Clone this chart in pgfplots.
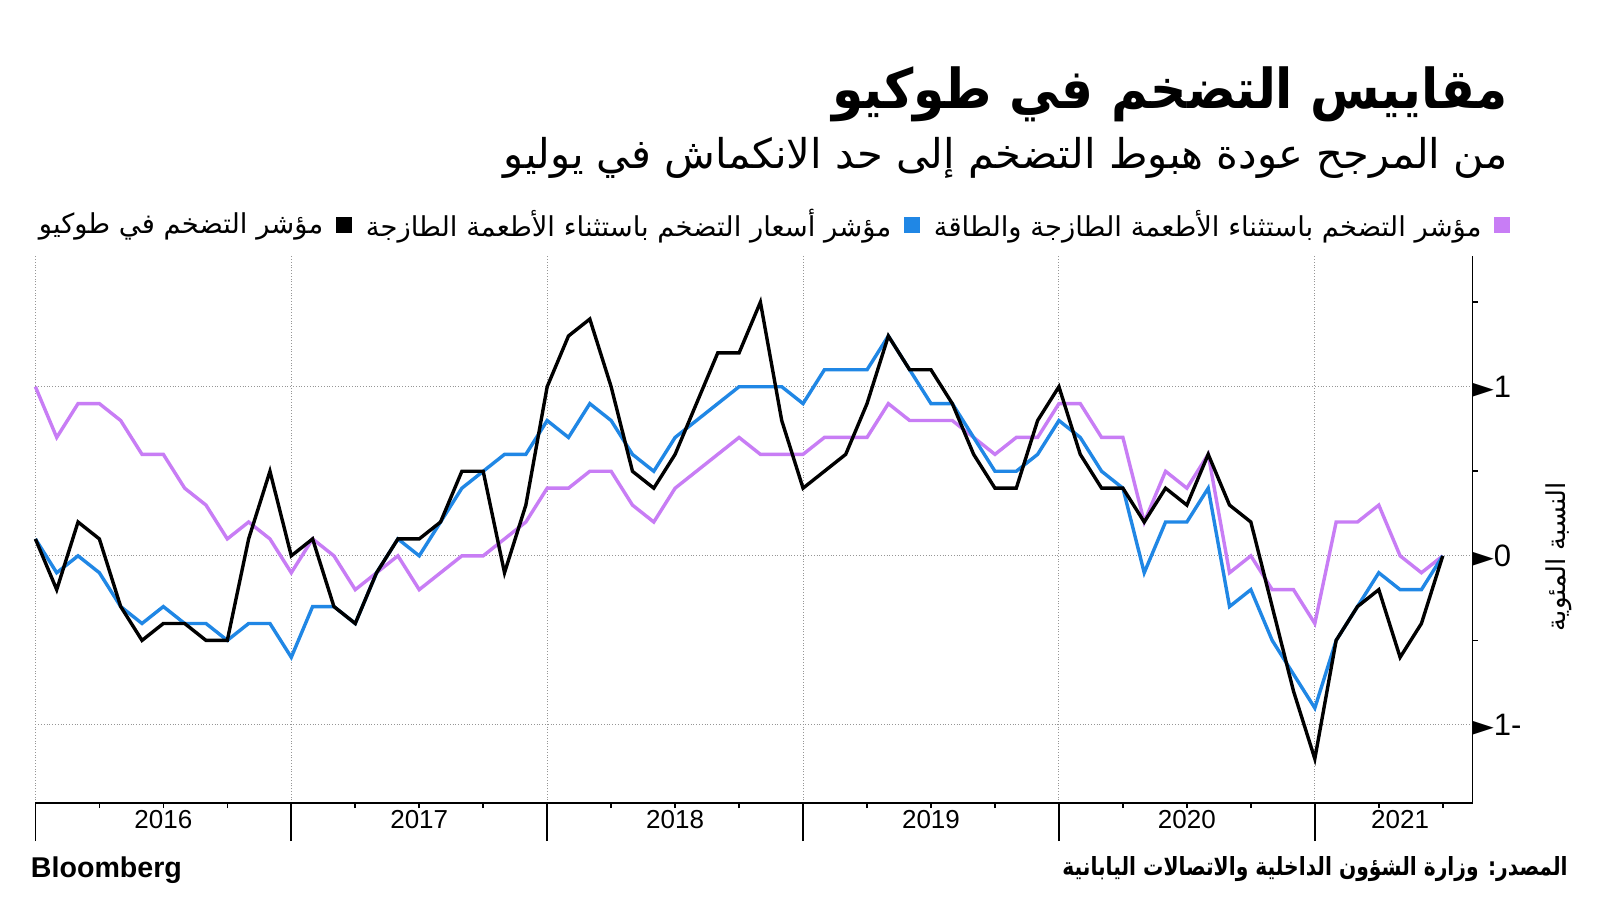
\documentclass[border=0pt]{standalone}
\usepackage{fontspec}
\usepackage{pgfplots}
\usepackage{pgfplotstable}
\pgfplotsset{compat=1.18}
\setmainfont{Liberation Sans}
\newfontfamily\arabicfont[Script=Arabic]{DejaVu Sans}
\newfontfamily\symfont{DejaVu Sans}
\TeXXeTstate=1
\definecolor{cpurple}{RGB}{200,125,245}
\definecolor{cblue}{RGB}{32,135,229}
\definecolor{cgrid}{RGB}{150,150,150}

\pgfplotstableread{
x p b k
0 1.0 0.1 0.1
1 0.7 -0.1 -0.2
2 0.9 0.0 0.2
3 0.9 -0.1 0.1
4 0.8 -0.3 -0.3
5 0.6 -0.4 -0.5
6 0.6 -0.3 -0.4
7 0.4 -0.4 -0.4
8 0.3 -0.4 -0.5
9 0.1 -0.5 -0.5
10 0.2 -0.4 0.1
11 0.1 -0.4 0.5
12 -0.1 -0.6 0.0
13 0.1 -0.3 0.1
14 0.0 -0.3 -0.3
15 -0.2 -0.4 -0.4
16 -0.1 -0.1 -0.1
17 0.0 0.1 0.1
18 -0.2 0.0 0.1
19 -0.1 0.2 0.2
20 0.0 0.4 0.5
21 0.0 0.5 0.5
22 0.1 0.6 -0.1
23 0.2 0.6 0.3
24 0.4 0.8 1.0
25 0.4 0.7 1.3
26 0.5 0.9 1.4
27 0.5 0.8 1.0
28 0.3 0.6 0.5
29 0.2 0.5 0.4
30 0.4 0.7 0.6
31 0.5 0.8 0.9
32 0.6 0.9 1.2
33 0.7 1.0 1.2
34 0.6 1.0 1.5
35 0.6 1.0 0.8
36 0.6 0.9 0.4
37 0.7 1.1 0.5
38 0.7 1.1 0.6
39 0.7 1.1 0.9
40 0.9 1.3 1.3
41 0.8 1.1 1.1
42 0.8 0.9 1.1
43 0.8 0.9 0.9
44 0.7 0.7 0.6
45 0.6 0.5 0.4
46 0.7 0.5 0.4
47 0.7 0.6 0.8
48 0.9 0.8 1.0
49 0.9 0.7 0.6
50 0.7 0.5 0.4
51 0.7 0.4 0.4
52 0.2 -0.1 0.2
53 0.5 0.2 0.4
54 0.4 0.2 0.3
55 0.6 0.4 0.6
56 -0.1 -0.3 0.3
57 0.0 -0.2 0.2
58 -0.2 -0.5 -0.3
59 -0.2 -0.7 -0.8
60 -0.4 -0.9 -1.2
61 0.2 -0.5 -0.5
62 0.2 -0.3 -0.3
63 0.3 -0.1 -0.2
64 0.0 -0.2 -0.6
65 -0.1 -0.2 -0.4
66 0.0 0.0 0.0
}\data

\begin{document}
\begin{tikzpicture}[x=1pt,y=1pt]
\useasboundingbox (0,0) rectangle (800,450);
\fill[white] (0,0) rectangle (800,450);
\node[anchor=east, inner sep=0] at (754,403) {\scalebox{0.915}[1]{\fontsize{27.5}{31}\selectfont\arabicfont\bfseries\beginR مقاييس التضخم في طوكيو\endR}};
\node[anchor=east, inner sep=0] at (754,371) {\scalebox{1.015}[1]{\fontsize{20.5}{24}\selectfont\arabicfont\beginR من المرجح عودة هبوط التضخم إلى حد الانكماش في يوليو\endR}};
\node[anchor=west, inner sep=0] at (15.3,15.0) {\fontsize{14.3}{16}\selectfont\bfseries Bloomberg};
\node[anchor=east, inner sep=0] at (784,15.3) {\scalebox{0.81}[1]{\fontsize{12.5}{14}\selectfont\arabicfont\bfseries\beginR المصدر: وزارة الشؤون الداخلية والاتصالات اليابانية\endR}};
\begin{axis}[
 at={(16.6,57.3)}, anchor=south west,
 scale only axis, width=718.6pt, height=273.3pt,
 xmin=0, xmax=67.4, ymin=-1.462, ymax=1.77,
 axis x line*=bottom, axis y line*=right,
 axis line style={line width=0.8pt, black, -},
 xtick={0,12,24,36,48,60}, xticklabels={},
 minor xtick={3,6,9,15,18,21,27,30,33,39,42,45,51,54,57,63,66},
 extra x ticks={6,18,30,42,54,64},
 extra x tick labels={2016,2017,2018,2019,2020,2021},
 extra x tick style={grid=none, major tick length=0pt},
 xticklabel style={font=\fontsize{13}{15}\selectfont},
 ytick={-1,0,1},
 yticklabels={{{\symfont\fontsize{14}{14}\selectfont ►}1-},{{\symfont\fontsize{14}{14}\selectfont ►}0},{{\symfont\fontsize{14}{14}\selectfont ►}1}},
 yticklabel style={font=\fontsize{15.5}{17}\selectfont, anchor=west, inner xsep=0pt, xshift=-19.3pt},
 minor ytick={-0.5,0.5,1.5},
 grid=major, major grid style={densely dotted, cgrid, line width=0.5pt},
 tick align=outside,
 major tick length=19pt, minor tick length=2.5pt,
 major y tick style={draw=none},
 tick style={black, line width=0.8pt},
 clip=false,
 legend columns=3,
 legend plot pos=right,
 legend cell align=right,
 legend style={at={(axis description cs:1.0265,1.058)}, anchor=east, draw=none, fill=none, inner sep=0pt,
   font=\fontsize{13.7}{15}\selectfont\arabicfont,
   /tikz/every even column/.append style={column sep=5pt}},
 legend image code/.code={\path (0pt,0pt); \fill[#1] (4.5pt,-3.7pt) rectangle (12pt,3.8pt);},
]
\addlegendimage{black}
\addlegendentry{\beginR مؤشر التضخم في طوكيو\endR}
\addlegendimage{cblue}
\addlegendentry{\beginR مؤشر أسعار التضخم باستثناء الأطعمة الطازجة\endR}
\addlegendimage{cpurple}
\addlegendentry{\beginR مؤشر التضخم باستثناء الأطعمة الطازجة والطاقة\endR}
\addplot[cpurple, line width=1.7pt, forget plot] table[x=x, y=p] {\data};
\addplot[cblue, line width=1.7pt, forget plot] table[x=x, y=b] {\data};
\addplot[black, line width=1.7pt, forget plot] table[x=x, y=k] {\data};
\node[rotate=90, anchor=center, font=\fontsize{13}{15}\selectfont\arabicfont] at (axis description cs:1.06,0.451) {\beginR النسبة المئوية\endR};
\end{axis}
\end{tikzpicture}
\end{document}
